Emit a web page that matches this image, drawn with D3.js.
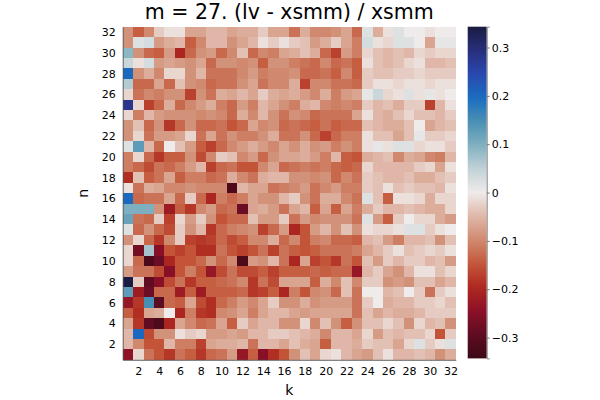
<!DOCTYPE html>
<html>
<head>
<meta charset="utf-8">
<script src="https://cdn.jsdelivr.net/npm/d3@7"></script>
<style>
  body { margin: 0; background: #fff; }
  svg text { font-family: "DejaVu Sans", sans-serif; fill: #000; }
</style>
</head>
<body>
<svg id="chart" width="600" height="400"></svg>
<script>
// heatmap: m = 27, relative difference (lv - xsmm) / xsmm over k (columns) and n (rows)
const kValues = d3.range(1, 33);
const nValues = d3.range(1, 33);
const xTicks = [2, 4, 6, 8, 10, 12, 14, 16, 18, 20, 22, 24, 26, 28, 30, 32];
const yTicks = [2, 4, 6, 8, 10, 12, 14, 16, 18, 20, 22, 24, 26, 28, 30, 32];
const cbTicks = [-0.3, -0.2, -0.1, 0, 0.1, 0.2, 0.3];
const cLim = 0.343;

// rows listed from n = 32 (top) down to n = 1; each row is k = 1..32
const zRows = [
  [-0.09,-0.14,-0.10,-0.03,-0.01,-0.01,-0.07,-0.07,-0.05,-0.05,-0.07,-0.06,-0.06,-0.03,-0.07,-0.07,-0.12,-0.06,-0.10,-0.10,-0.09,-0.07,-0.13,0.02,-0.06,-0.01,0.02,0.00,0.00,-0.01,0.00,0.00],
  [-0.09,0.02,0.03,-0.08,-0.06,-0.05,-0.14,-0.10,-0.05,-0.05,-0.09,-0.07,-0.05,-0.01,-0.03,-0.01,-0.03,-0.04,-0.08,-0.06,-0.03,-0.07,-0.11,0.03,-0.01,-0.02,0.02,0.02,0.00,-0.07,0.01,0.01],
  [0.09,-0.09,-0.13,-0.14,-0.08,-0.20,-0.13,-0.09,-0.08,-0.13,-0.10,-0.04,-0.13,-0.10,-0.11,-0.07,-0.06,-0.04,-0.06,-0.13,-0.17,-0.08,-0.11,-0.02,-0.04,-0.05,-0.04,-0.05,-0.02,-0.03,-0.02,-0.02],
  [0.04,-0.01,0.03,-0.08,-0.07,-0.08,-0.09,-0.07,-0.13,-0.09,-0.09,-0.10,-0.09,-0.14,-0.09,-0.09,-0.11,-0.12,-0.13,-0.10,-0.13,-0.12,-0.14,-0.01,-0.04,-0.05,-0.04,-0.02,-0.01,-0.05,-0.05,-0.04],
  [0.20,-0.09,-0.06,-0.10,-0.02,-0.02,-0.09,-0.05,-0.12,-0.12,-0.12,-0.10,-0.08,-0.11,-0.10,-0.10,-0.09,-0.13,-0.13,-0.12,-0.14,-0.10,-0.14,-0.03,-0.04,-0.04,-0.03,-0.03,-0.02,-0.03,-0.03,-0.03],
  [0.06,-0.13,-0.13,-0.07,-0.13,-0.04,-0.09,-0.10,-0.13,-0.12,-0.12,-0.09,-0.07,-0.12,-0.10,-0.10,-0.06,-0.17,-0.10,-0.10,-0.12,-0.12,-0.13,-0.03,-0.01,-0.01,-0.02,-0.01,-0.01,-0.02,-0.01,-0.01],
  [-0.02,-0.12,-0.10,-0.11,-0.09,-0.09,-0.17,-0.09,-0.12,-0.06,-0.07,-0.05,-0.07,-0.03,-0.06,-0.07,-0.06,-0.08,-0.10,-0.06,-0.11,-0.08,-0.07,0.01,0.04,-0.02,-0.01,0.02,-0.01,0.01,-0.01,0.00],
  [0.28,-0.02,-0.17,-0.13,-0.06,-0.13,-0.10,-0.08,-0.06,-0.11,-0.13,-0.08,-0.11,-0.05,-0.07,-0.09,-0.11,-0.06,-0.05,-0.10,-0.11,-0.10,-0.11,-0.03,-0.05,-0.04,-0.06,-0.03,-0.03,-0.17,-0.05,-0.01],
  [-0.02,-0.11,-0.05,-0.08,-0.09,-0.09,-0.09,-0.10,-0.09,-0.10,-0.13,-0.06,-0.10,-0.05,-0.09,-0.12,-0.09,-0.10,-0.13,-0.12,-0.12,-0.12,-0.07,-0.01,-0.05,-0.06,-0.04,-0.02,-0.04,-0.04,-0.05,-0.03],
  [-0.09,-0.04,-0.13,-0.09,-0.18,-0.13,-0.09,-0.13,-0.13,-0.12,-0.15,-0.13,-0.07,-0.10,-0.09,-0.13,-0.12,-0.13,-0.14,-0.12,-0.14,-0.13,-0.13,-0.04,-0.05,-0.06,-0.06,-0.04,0.00,-0.07,-0.05,-0.04],
  [-0.09,-0.02,-0.12,-0.08,-0.08,-0.07,-0.02,-0.12,-0.07,-0.12,-0.09,-0.11,-0.11,-0.09,-0.06,-0.12,-0.12,-0.09,-0.13,-0.17,-0.13,-0.11,-0.11,-0.01,-0.04,-0.04,-0.07,-0.04,0.01,-0.03,-0.03,-0.02],
  [0.02,0.13,-0.05,-0.13,0.00,-0.04,-0.08,-0.14,-0.17,-0.13,-0.10,-0.08,-0.06,-0.08,-0.10,-0.07,-0.09,-0.06,-0.09,-0.08,-0.11,-0.09,-0.11,-0.01,0.01,-0.01,0.02,0.02,-0.02,-0.01,-0.01,-0.03],
  [-0.11,-0.02,-0.13,-0.18,-0.14,-0.14,-0.09,-0.16,-0.10,-0.03,-0.04,-0.10,-0.08,-0.13,-0.09,-0.07,-0.07,-0.06,-0.08,-0.11,-0.05,-0.14,-0.15,-0.06,-0.05,-0.04,-0.10,-0.06,-0.07,-0.10,-0.11,-0.05],
  [-0.11,-0.13,-0.16,-0.12,-0.13,-0.11,-0.08,-0.05,-0.17,-0.13,-0.12,-0.15,-0.15,-0.10,-0.07,-0.13,-0.12,-0.11,-0.12,-0.11,-0.13,-0.14,-0.13,-0.02,-0.05,-0.05,-0.05,-0.05,-0.03,-0.02,-0.07,-0.01],
  [-0.19,-0.04,-0.14,-0.12,-0.07,-0.14,-0.11,-0.11,-0.13,-0.12,-0.06,-0.10,-0.12,-0.06,-0.05,-0.05,-0.09,-0.09,-0.10,-0.09,-0.13,-0.10,-0.12,-0.03,-0.04,-0.05,-0.05,-0.04,-0.06,-0.06,-0.04,-0.03],
  [-0.01,-0.12,-0.06,-0.07,-0.10,-0.10,-0.09,-0.10,-0.10,-0.10,-0.32,-0.05,-0.07,-0.07,-0.12,-0.11,-0.10,-0.08,-0.12,-0.10,-0.08,-0.11,-0.11,-0.03,-0.04,-0.01,-0.04,-0.03,-0.04,-0.04,-0.05,-0.01],
  [0.20,-0.13,-0.12,-0.12,-0.07,-0.13,-0.03,-0.13,-0.20,-0.11,-0.13,-0.11,-0.07,-0.09,-0.09,-0.05,-0.03,-0.09,-0.12,-0.06,-0.06,-0.10,-0.12,0.02,-0.04,-0.14,-0.01,-0.01,-0.02,-0.06,-0.02,-0.02],
  [0.10,0.10,0.10,-0.09,-0.22,-0.14,-0.18,-0.10,-0.08,-0.13,-0.12,-0.28,-0.07,-0.06,-0.08,-0.12,-0.07,-0.05,-0.14,-0.07,-0.14,-0.07,-0.11,-0.06,-0.03,-0.05,-0.05,-0.04,-0.05,-0.06,-0.06,-0.02],
  [0.12,-0.12,-0.13,-0.03,-0.17,-0.02,-0.08,-0.03,-0.09,-0.15,-0.13,-0.13,-0.04,-0.08,-0.08,-0.03,-0.12,-0.08,-0.10,-0.09,-0.09,-0.09,-0.12,0.02,-0.08,-0.14,-0.03,0.00,-0.02,-0.02,-0.06,-0.08],
  [0.02,-0.13,-0.09,-0.13,-0.16,-0.03,-0.09,-0.05,-0.18,-0.13,-0.11,-0.10,-0.09,-0.17,-0.13,-0.08,-0.20,-0.15,-0.08,-0.05,-0.09,-0.04,-0.09,-0.01,-0.02,-0.02,-0.01,0.02,0.02,-0.03,-0.01,0.00],
  [-0.09,-0.02,-0.13,-0.18,-0.10,-0.03,-0.17,-0.18,-0.17,-0.13,-0.16,-0.14,-0.10,-0.10,-0.06,-0.13,-0.10,-0.15,-0.11,-0.10,-0.13,-0.13,-0.14,-0.05,-0.04,-0.08,-0.11,-0.05,-0.05,-0.04,-0.09,-0.04],
  [-0.02,-0.27,0.07,-0.25,-0.15,-0.17,-0.15,-0.19,-0.19,-0.12,-0.15,-0.17,-0.15,-0.12,-0.17,-0.12,-0.14,-0.15,-0.14,-0.12,-0.12,-0.12,-0.11,-0.07,-0.05,-0.03,-0.01,-0.04,-0.03,-0.02,-0.03,-0.01],
  [-0.02,-0.13,-0.32,-0.28,-0.20,-0.15,-0.15,-0.13,-0.09,-0.13,-0.10,-0.32,-0.08,-0.09,-0.05,-0.12,-0.20,-0.07,-0.17,-0.15,-0.18,-0.12,-0.15,-0.04,-0.08,-0.03,-0.05,-0.03,-0.03,-0.05,-0.04,-0.08],
  [-0.08,-0.12,-0.12,-0.16,-0.25,-0.15,-0.11,-0.15,-0.23,-0.16,-0.12,-0.16,-0.16,-0.14,-0.17,-0.14,-0.14,-0.14,-0.13,-0.14,-0.13,-0.13,-0.23,-0.05,-0.03,-0.07,-0.09,-0.05,-0.01,-0.01,-0.04,-0.02],
  [0.34,-0.03,-0.29,-0.25,-0.16,-0.12,-0.18,-0.14,-0.14,-0.13,-0.12,-0.10,-0.18,-0.12,-0.16,-0.07,-0.07,-0.07,-0.14,-0.06,-0.10,-0.04,-0.10,-0.03,-0.03,-0.09,-0.08,-0.09,-0.04,-0.04,-0.07,-0.05],
  [0.13,-0.22,-0.28,-0.13,-0.13,-0.22,-0.14,-0.22,-0.14,-0.14,-0.14,-0.13,-0.18,-0.17,-0.14,-0.20,-0.11,-0.15,-0.10,-0.09,-0.13,-0.04,-0.12,0.00,0.00,-0.05,-0.04,0.00,-0.03,-0.12,-0.03,-0.01],
  [-0.23,-0.18,0.15,-0.30,-0.13,-0.14,-0.07,-0.16,-0.19,-0.13,-0.11,-0.08,-0.10,-0.07,-0.03,-0.09,-0.09,-0.06,-0.09,-0.08,-0.08,-0.08,-0.12,-0.03,0.00,-0.06,-0.05,-0.05,-0.03,-0.03,-0.02,-0.04],
  [-0.14,-0.19,-0.07,-0.06,0.00,-0.20,-0.11,-0.18,-0.19,-0.10,-0.09,-0.07,-0.11,-0.07,-0.05,-0.05,-0.07,-0.08,-0.07,-0.07,-0.07,-0.07,-0.12,-0.04,-0.07,-0.05,-0.06,-0.06,-0.05,-0.03,-0.03,-0.03],
  [-0.07,-0.18,-0.29,-0.32,-0.20,-0.07,-0.10,-0.13,-0.12,-0.07,-0.14,-0.03,-0.07,-0.05,-0.05,-0.09,-0.09,-0.02,-0.10,-0.04,-0.09,-0.14,-0.09,-0.04,-0.04,-0.02,-0.04,-0.09,-0.02,-0.05,-0.04,-0.09],
  [-0.05,0.20,-0.16,-0.09,-0.09,-0.01,-0.03,-0.02,-0.08,-0.08,-0.07,-0.08,-0.05,-0.05,-0.03,-0.03,-0.04,-0.05,-0.06,-0.10,-0.05,-0.05,-0.07,-0.02,-0.08,-0.04,-0.05,-0.04,-0.04,-0.02,-0.15,-0.03],
  [-0.05,-0.10,-0.15,-0.15,-0.05,-0.11,-0.11,-0.17,-0.07,-0.06,-0.06,-0.05,-0.12,-0.05,-0.05,-0.07,-0.04,-0.06,-0.07,-0.14,-0.05,-0.05,-0.06,-0.03,-0.04,-0.04,-0.07,-0.02,0.02,-0.03,-0.01,0.02],
  [-0.24,-0.02,-0.12,-0.15,-0.18,-0.12,-0.14,-0.18,-0.13,-0.12,-0.08,-0.23,-0.14,-0.25,-0.19,-0.15,-0.09,-0.04,-0.07,-0.02,-0.01,-0.05,-0.07,-0.08,-0.04,-0.01,-0.05,-0.05,-0.04,-0.05,-0.09,-0.06]
];

// reversed "balance" palette: red for negative, blue for positive
const palette = ['#3c0915','#5e0c22','#8c1028','#ae2820','#c4573a','#d08a70','#dfb7a8','#efebea',
                 '#c2d2d7','#80b0c0','#4a90b4','#1a6cc0','#2a48b0','#282f7c','#1a1b40'];

const svg = d3.select('#chart');
const L = 122.7, R = 455.8, T = 26.7, B = 359.8;

const x = d3.scaleLinear().domain([0.5, 32.5]).range([L, R]);
const y = d3.scaleLinear().domain([0.5, 32.5]).range([B, T]);
const color = d3.scaleLinear()
  .domain(d3.range(palette.length).map(i => -cLim + 2 * cLim * i / (palette.length - 1)))
  .range(palette).interpolate(d3.interpolateRgb).clamp(true);

const cells = [];
zRows.forEach((row, i) => {
  const n = nValues[nValues.length - 1 - i];
  row.forEach((v, j) => cells.push({ k: kValues[j], n, v }));
});

svg.append('g').selectAll('rect').data(cells).enter().append('rect')
  .attr('x', d => x(d.k - 0.5))
  .attr('y', d => y(d.n + 0.5))
  .attr('width', x(1.5) - x(0.5) + 0.4)
  .attr('height', y(0.5) - y(1.5) + 0.4)
  .attr('fill', d => color(d.v))
  .attr('shape-rendering', 'crispEdges');

// axes (spines only, no tick marks)
const xAxis = d3.axisBottom(x).tickValues(xTicks).tickSize(0).tickPadding(7);
const gx = svg.append('g').attr('transform', `translate(0,${B})`).call(xAxis);
const yAxis = d3.axisLeft(y).tickValues(yTicks).tickSize(0).tickPadding(7);
const gy = svg.append('g').attr('transform', `translate(${L},0)`).call(yAxis);
[gx, gy].forEach(g => {
  g.select('.domain').attr('stroke', '#555').attr('stroke-width', 0.9);
  g.selectAll('text').attr('font-family', '"DejaVu Sans", sans-serif').attr('font-size', 11).attr('fill', '#000');
});

// title and labels
svg.append('text').attr('x', (L + R) / 2).attr('y', 18.5).attr('text-anchor', 'middle')
  .attr('font-size', 20.5).text('m = 27. (lv - xsmm) / xsmm');
svg.append('text').attr('x', (L + R) / 2).attr('y', 395).attr('text-anchor', 'middle')
  .attr('font-size', 14).text('k');
svg.append('text').attr('transform', `translate(88,${(T + B) / 2}) rotate(-90)`)
  .attr('text-anchor', 'middle').attr('font-size', 14).text('n');

// colorbar
const cbX = 467.7, cbW = 19;
const cb = d3.scaleLinear().domain([-cLim, cLim]).range([358.4, T]);
const grad = svg.append('defs').append('linearGradient').attr('id', 'cbgrad')
  .attr('x1', 0).attr('y1', 1).attr('x2', 0).attr('y2', 0);
d3.range(0, 1.0001, 0.02).forEach(t => {
  grad.append('stop').attr('offset', t).attr('stop-color', color(-cLim + 2 * cLim * t));
});
svg.append('rect').attr('x', cbX).attr('y', cb(cLim)).attr('width', cbW)
  .attr('height', cb(-cLim) - cb(cLim)).attr('fill', 'url(#cbgrad)');
const cbAxis = d3.axisRight(cb).tickValues(cbTicks).tickSize(3).tickPadding(2)
  .tickFormat(d => d === 0 ? '0' : d3.format('.1f')(d).replace('-', '\u2212'));
const gc = svg.append('g').attr('transform', `translate(${cbX + cbW},0)`).call(cbAxis);
gc.select('.domain').attr('stroke', '#777').attr('stroke-width', 0.9);
gc.selectAll('.tick line').attr('stroke', '#777');
gc.selectAll('text').attr('font-family', '"DejaVu Sans", sans-serif').attr('font-size', 11).attr('fill', '#000');
</script>
</body>
</html>
